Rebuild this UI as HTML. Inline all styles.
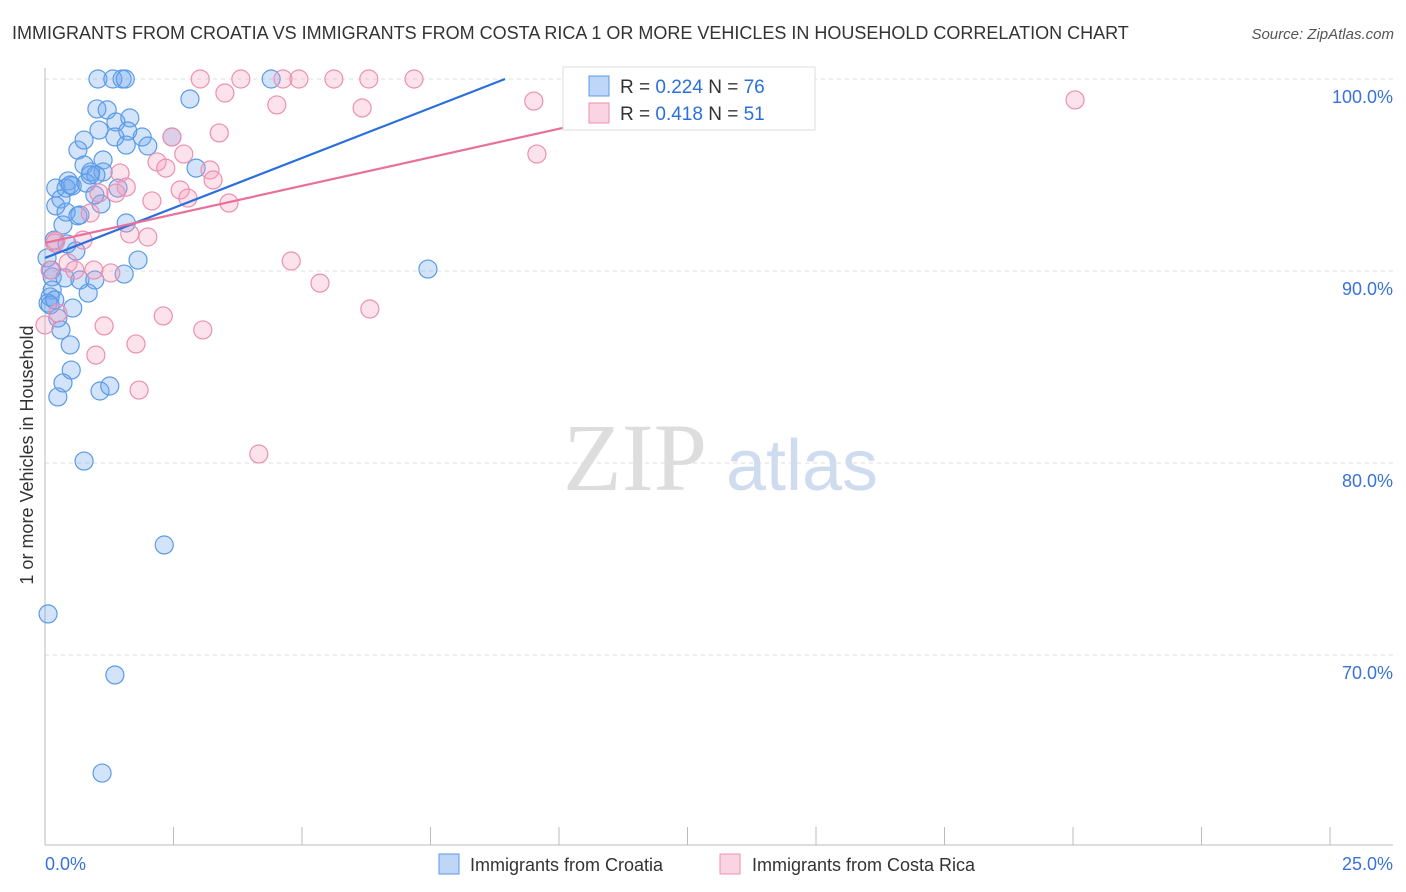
<!DOCTYPE html>
<html><head><meta charset="utf-8"><style>
body{margin:0;background:#fff;font-family:"Liberation Sans",sans-serif;}
svg{display:block}
</style></head><body>
<svg id="chart" width="1406" height="892" xmlns="http://www.w3.org/2000/svg">
<text x="12" y="39" font-size="18" fill="#333">IMMIGRANTS FROM CROATIA VS IMMIGRANTS FROM COSTA RICA 1 OR MORE VEHICLES IN HOUSEHOLD CORRELATION CHART</text>
<text x="1394" y="39" font-size="15" fill="#555" text-anchor="end" font-style="italic">Source: ZipAtlas.com</text>
<text transform="translate(33,455) rotate(-90)" font-size="18" fill="#333" text-anchor="middle">1 or more Vehicles in Household</text>
<g>
<text x="635" y="490" font-size="96" fill="#ddd" font-family="Liberation Serif,serif" text-anchor="middle">ZIP</text>
<text x="802" y="490" font-size="72" fill="#cfdcf0" text-anchor="middle">atlas</text>
</g>
<g id="grid"></g>
<g id="axes"></g>
<g id="pts"></g>
<g id="lines"></g>
<g>
<rect x="563" y="67" width="252" height="63" fill="#fff" stroke="#ddd"/>
<rect x="589" y="76" width="20" height="20" fill="rgba(110,165,240,0.45)" stroke="#5a9ae6"/>
<text x="620" y="93" font-size="19" fill="#333">R = <tspan fill="#2a6fdb">0.224</tspan>   N = <tspan fill="#2a6fdb">76</tspan></text>
<rect x="589" y="103" width="20" height="20" fill="rgba(245,160,190,0.45)" stroke="#ec8fb0"/>
<text x="620" y="120" font-size="19" fill="#333">R =  <tspan fill="#2a6fdb">0.418</tspan>   N =  <tspan fill="#2a6fdb">51</tspan></text>
</g>
<g>
<rect x="439" y="854" width="20" height="20" fill="rgba(110,165,240,0.45)" stroke="#5a9ae6"/>
<text x="470" y="871" font-size="18" fill="#333">Immigrants from Croatia</text>
<rect x="720" y="854" width="20" height="20" fill="rgba(245,160,190,0.45)" stroke="#ec8fb0"/>
<text x="752" y="871" font-size="18" fill="#333">Immigrants from Costa Rica</text>
</g>
</svg>
<script>
const yTicks=[100,90,80,70];
const yTickLabels=["100.0%","90.0%","80.0%","70.0%"];
const xTickLabels=["0.0%","25.0%"];
const croatiaX=[1.03,1.32,1.50,1.56,4.40,10.33,2.82,1.01,1.21,1.65,1.38,1.05,1.61,1.89,1.36,1.58,2.00,0.64,0.76,1.13,0.76,2.94,0.89,1.13,0.99,0.45,0.53,0.80,0.21,0.41,1.42,0.31,1.09,0.21,0.41,0.68,0.64,1.58,0.35,0.18,0.43,0.60,1.81,0.04,0.12,0.14,0.39,0.68,0.97,1.54,0.84,0.14,0.10,0.06,0.54,0.25,0.31,0.49,0.51,0.35,0.25,1.07,1.26,7.45,0.76,2.32,0.06,1.36,1.11,2.47,0.10,0.97,0.19,0.88,0.49];
const croatiaY=[100,100,100,100,100,100,98.96,98.44,98.39,97.97,97.76,97.34,97.29,96.98,96.98,96.56,96.51,96.30,96.82,95.78,95.52,95.36,95.16,95.16,95.0,94.69,94.43,94.58,94.32,94.32,94.32,93.75,93.49,93.39,93.07,92.92,92.87,92.5,92.4,91.61,91.41,91.04,90.57,90.68,90.05,89.69,89.64,89.53,89.53,89.84,88.85,89.01,88.65,88.33,88.07,87.55,86.93,86.15,84.84,84.17,83.44,83.75,84.01,90.10,80.10,75.73,72.14,68.96,63.85,96.98,88.23,93.96,88.49,95.0,94.48];
const costaX=[3.02,3.81,4.63,4.94,5.62,6.30,7.18,3.50,4.51,6.17,9.51,20.04,2.47,3.39,9.57,2.70,2.18,2.35,3.21,1.46,3.27,1.58,2.63,1.05,2.08,3.58,2.78,1.38,0.88,1.65,2.00,0.74,0.21,0.45,4.79,0.10,0.58,1.28,5.35,0.25,6.32,2.30,1.15,3.07,1.77,0.99,1.83,4.16,0.19,0.0,0.95];
const costaY=[100,100,100,100,100,100,100,99.27,98.65,98.49,98.85,98.91,96.98,97.19,96.09,96.09,95.68,95.36,95.26,95.10,94.74,94.37,94.22,94.06,93.65,93.54,93.80,94.06,93.02,91.93,91.77,91.61,91.56,90.42,90.52,90.05,90.05,89.90,89.37,87.81,88.02,87.66,87.14,86.93,86.20,85.62,83.80,80.47,91.46,87.19,90.05];
const trendCroatia=[0,90.68,8.95,100];
const trendCosta=[0,91.46,14.36,100];
const NS="http://www.w3.org/2000/svg";
const X=v=>45+v*51.4, Y=v=>79+(100-v)*19.2;
function mk(t,a,p){const e=document.createElementNS(NS,t);for(const k in a)e.setAttribute(k,a[k]);p.appendChild(e);return e;}
const grid=document.getElementById('grid'),axes=document.getElementById('axes');
yTicks.forEach((t,i)=>{
 const l=mk('line',{x1:45,x2:1393,y1:Y(t),y2:Y(t),stroke:'#ddd','stroke-dasharray':'4,4'},grid);
 
 
 const tx=mk('text',{x:1393,y:Y(t)+24,'font-size':18,fill:'#3a72d8','text-anchor':'end'},axes);
 tx.textContent=yTickLabels[i];
 
 
});
const ax=mk('line',{x1:45,x2:45,y1:68,y2:845,stroke:'#bbb'},axes);


const bx=mk('line',{x1:45,x2:1393,y1:845,y2:845,stroke:'#bbb'},axes);


for(let i=0;i<=10;i++){const t=mk('line',{x1:X(i*2.5),x2:X(i*2.5),y1:827,y2:845,stroke:'#bbb'},axes);
 
 }
const xl0=mk('text',{x:45,y:870,'font-size':18,fill:'#3a72d8'},axes);xl0.textContent=xTickLabels[0];


const xl1=mk('text',{x:1393,y:870,'font-size':18,fill:'#3a72d8','text-anchor':'end'},axes);xl1.textContent=xTickLabels[1];


const pts=document.getElementById('pts');
croatiaX.forEach((x,i)=>{const c=mk('circle',{cx:X(x),cy:Y(croatiaY[i]),r:9,fill:'rgba(110,165,240,0.3)',stroke:'#5a9ae6','stroke-width':1.2},pts);
 
 });
costaX.forEach((x,i)=>{const c=mk('circle',{cx:X(x),cy:Y(costaY[i]),r:9,fill:'rgba(245,160,190,0.3)',stroke:'#ec8fb0','stroke-width':1.2},pts);
 
 });
const lines=document.getElementById('lines');
const lc=mk('line',{x1:X(trendCroatia[0]),y1:Y(trendCroatia[1]),x2:X(trendCroatia[2]),y2:Y(trendCroatia[3]),stroke:'#2a6fdb','stroke-width':2.2},lines);


const lr=mk('line',{x1:X(trendCosta[0]),y1:Y(trendCosta[1]),x2:X(trendCosta[2]),y2:Y(trendCosta[3]),stroke:'#e8709a','stroke-width':2.2},lines);


</script>
</body></html>
